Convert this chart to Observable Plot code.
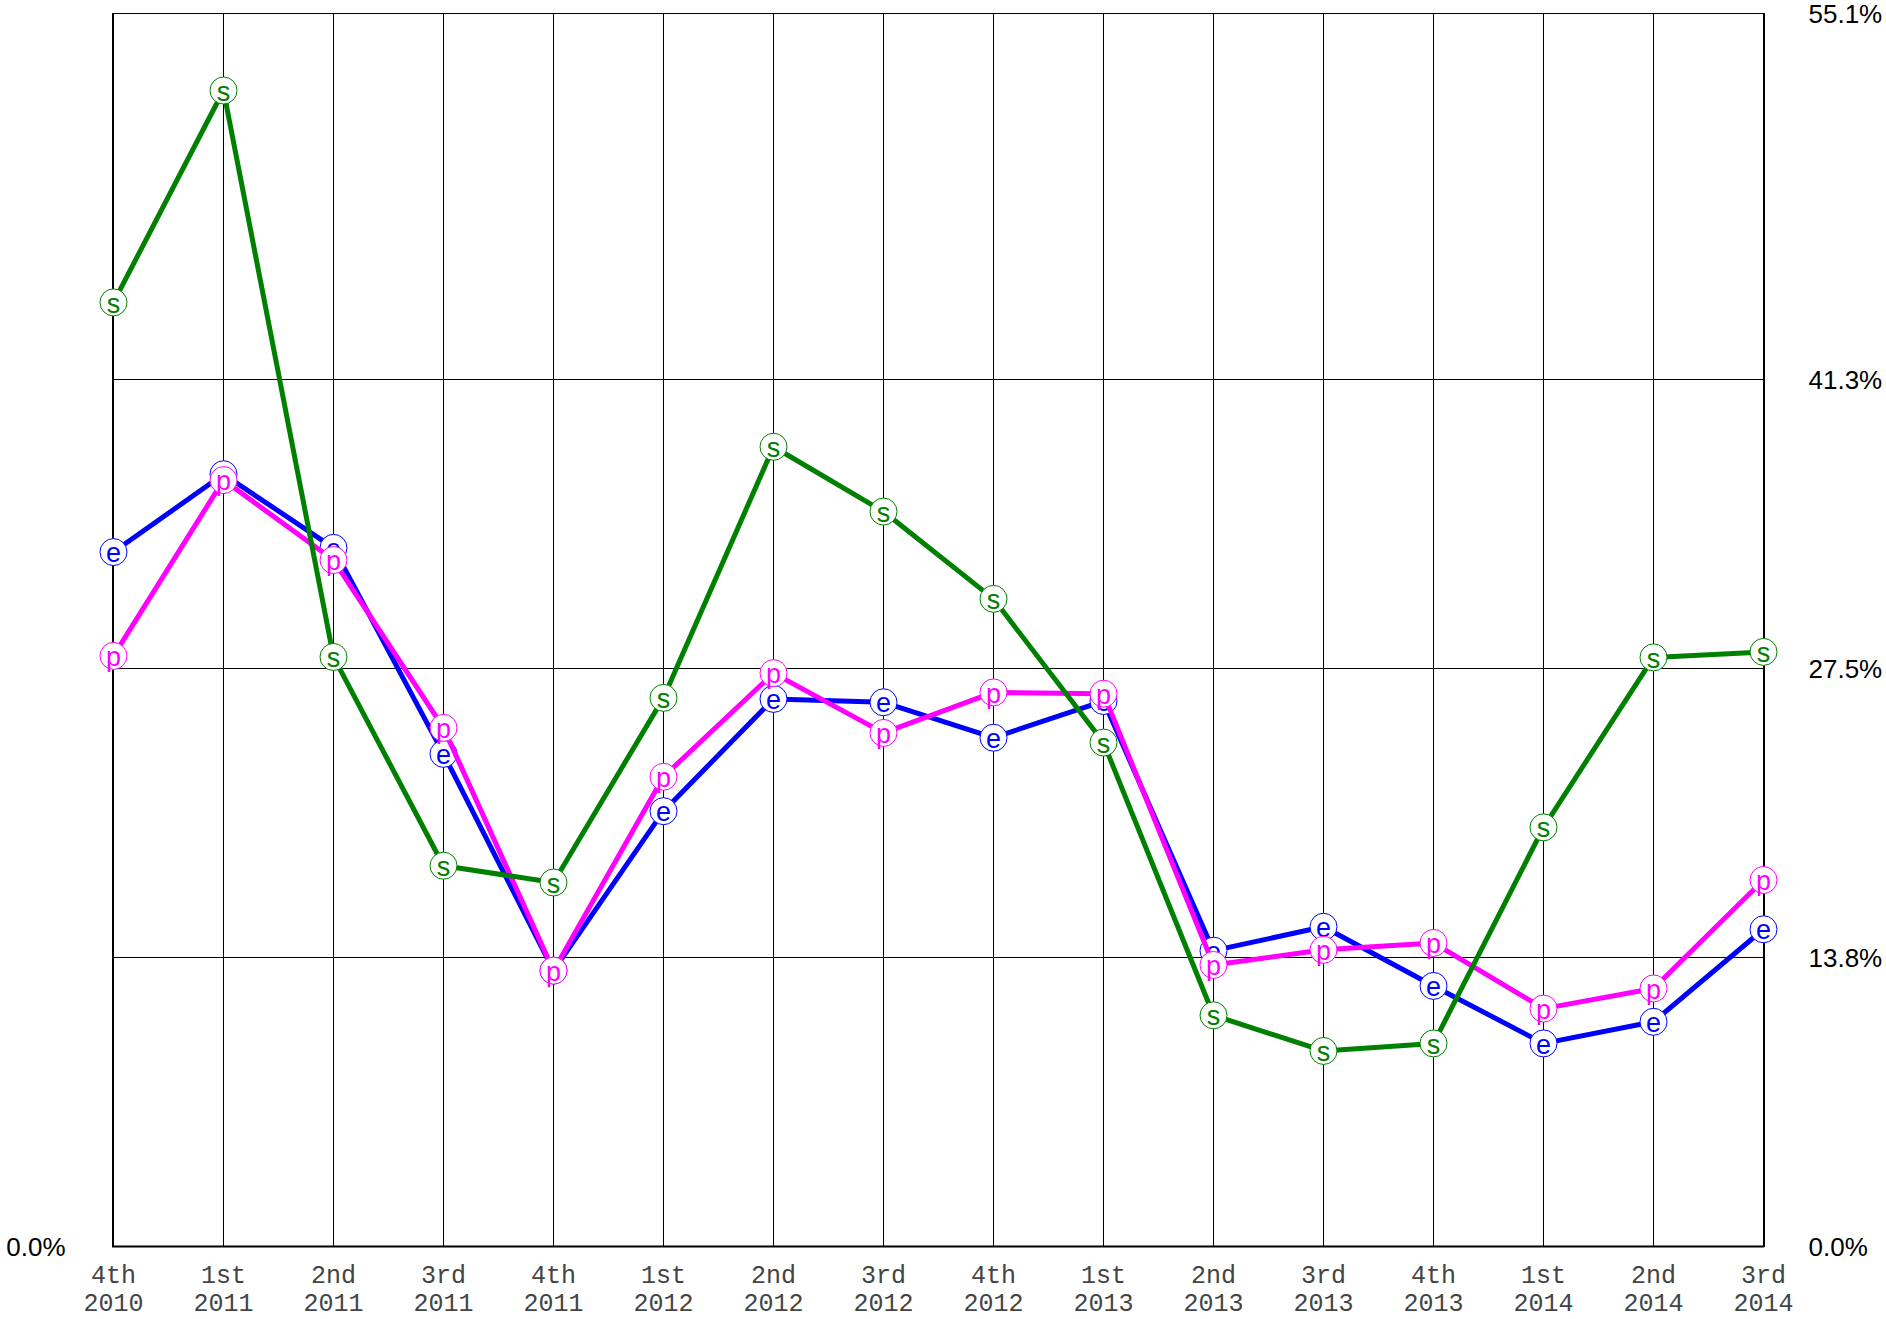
<!DOCTYPE html>
<html>
<head>
<meta charset="utf-8">
<script src="https://cdn.jsdelivr.net/npm/d3@7"></script>
<script src="https://cdn.jsdelivr.net/npm/@observablehq/plot@0.6"></script>
<style>
  html, body { margin: 0; padding: 0; background: #fff; overflow: hidden; }
  #chart svg { display: block; }
</style>
</head>
<body>
<div id="chart"></div>
<script>
// Categories (quarters)
const quarters = [
  "4th\n2010", "1st\n2011", "2nd\n2011", "3rd\n2011", "4th\n2011",
  "1st\n2012", "2nd\n2012", "3rd\n2012", "4th\n2012", "1st\n2013",
  "2nd\n2013", "3rd\n2013", "4th\n2013", "1st\n2014", "2nd\n2014", "3rd\n2014"
];

// Series values (percent)
const sValues = [45.0, 55.1, 28.1, 18.15, 17.35, 26.15, 38.12, 35.03, 30.87, 24.02, 11.02, 9.32, 9.68, 19.98, 28.08, 28.34];
const eValues = [33.1, 36.81, 33.3, 23.48, 13.15, 20.75, 26.1, 25.94, 24.25, 26.0, 14.1, 15.24, 12.42, 9.68, 10.71, 15.12];
const pValues = [28.15, 36.53, 32.72, 24.72, 13.15, 22.39, 27.33, 24.48, 26.41, 26.35, 13.42, 14.14, 14.47, 11.34, 12.3, 17.47];

// Series names / letters / colours
const seriesLetters = ["e", "p", "s"];
const seriesColors = ["#0000ff", "#ff00ff", "#008000"];

// Y ticks and their labels
const yTickValues = [0, 13.775, 27.55, 41.325, 58.77];
const yTickLabels = ["0.0%", "13.8%", "27.5%", "41.3%", "55.1%"];
const yGridValues = [13.775, 27.55, 41.325];
const yMax = 58.77;

const seriesValues = [eValues, pValues, sValues];
const labelOf = new Map(yTickValues.map((v, i) => [v, yTickLabels[i]]));

const seriesMarks = [];
seriesValues.forEach((vals, k) => {
  const rows = quarters.map((q, i) => ({q, v: vals[i]}));
  const color = seriesColors[k];
  const letter = seriesLetters[k];
  seriesMarks.push(
    Plot.line(rows, {x: "q", y: "v", stroke: color, strokeWidth: 5}),
    Plot.dot(rows, {x: "q", y: "v", r: 13.5, fill: "white", stroke: color, strokeWidth: 1}),
    Plot.text(rows, {x: "q", y: "v", text: () => letter, fill: color, fontSize: 27,
                     fontFamily: "Liberation Sans, Arial, sans-serif", dy: 1.5})
  );
});

const chart = Plot.plot({
  width: 1886,
  height: 1319,
  marginLeft: 112,
  marginRight: 122,
  marginTop: 13,
  marginBottom: 73,
  style: {background: "white"},
  x: {type: "point", domain: quarters, padding: 0},
  y: {domain: [0, yMax]},
  marks: [
    Plot.gridX({stroke: "black", strokeOpacity: 1, strokeWidth: 1}),
    Plot.gridY({ticks: yGridValues, stroke: "black", strokeOpacity: 1, strokeWidth: 1}),
    Plot.frame({stroke: "black", strokeWidth: 1}),
    Plot.ruleY([0], {stroke: "black", strokeWidth: 2}),
    Plot.axisX({anchor: "bottom", tickSize: 0, tickPadding: 17, label: null,
                fontSize: 25, fontFamily: "Liberation Mono, Courier New, monospace",
                fill: "#444", lineHeight: 1.1}),
    Plot.axisY({anchor: "right", ticks: yTickValues, tickFormat: d => labelOf.get(d),
                tickSize: 0, tickPadding: 44, label: null, textAnchor: "start", dy: 1.5,
                fontSize: 26, fontFamily: "Liberation Sans, Arial, sans-serif", fill: "black"}),
    Plot.axisY({anchor: "left", ticks: [0], tickFormat: d => labelOf.get(d),
                tickSize: 0, tickPadding: 47, label: null, dy: 1.5,
                fontSize: 26, fontFamily: "Liberation Sans, Arial, sans-serif", fill: "black"}),
    ...seriesMarks
  ]
});

document.getElementById("chart").appendChild(chart);
</script>
</body>
</html>
